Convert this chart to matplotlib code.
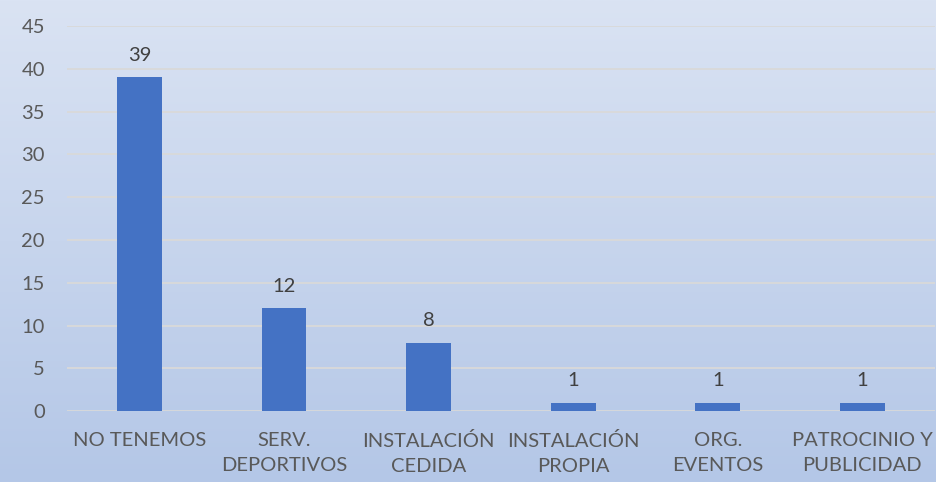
import numpy as np
import matplotlib
matplotlib.use("Agg")
import matplotlib.pyplot as plt

categories = ["NO TENEMOS", "SERV.\nDEPORTIVOS", "INSTALACIÓN\nCEDIDA",
              "INSTALACIÓN\nPROPIA", "ORG.\nEVENTOS", "PATROCINIO Y\nPUBLICIDAD"]
values = [39, 12, 8, 1, 1, 1]

plt.rcParams['font.family'] = ['Lato', 'DejaVu Sans']
text_color = "#595959"

fig = plt.figure(figsize=(9.36, 4.82), dpi=100)

# gradient background
bg = fig.add_axes([0, 0, 1, 1], zorder=0)
top = np.array([0xDA, 0xE3, 0xF3]) / 255
bot = np.array([0xB4, 0xC7, 0xE7]) / 255
t = np.linspace(0, 1, 256)[:, None]
grad = (top * (1 - t) + bot * t)[:, None, :]
bg.imshow(grad, aspect="auto", extent=[0, 1, 0, 1])
bg.axis("off")

ax = fig.add_axes([0.0716, 0.147, 0.927, 0.799], zorder=1)
ax.patch.set_alpha(0)
x = np.arange(len(categories))
bars = ax.bar(x, values, width=0.31, color="#4472C4", zorder=3)
for xi, v in zip(x, values):
    ax.text(xi, v + 1.6, str(v), ha="center", va="bottom", fontsize=14.5, color="#404040")

ax.set_ylim(0, 45)
ax.set_xlim(-0.5, len(categories) - 0.5)
ax.set_yticks(range(0, 46, 5))
ax.yaxis.grid(True, color="#D9D9D9", linewidth=1.3, zorder=0)
ax.set_axisbelow(True)
for s in ax.spines.values():
    s.set_visible(False)
ax.tick_params(axis="both", length=0, labelsize=14.5, labelcolor=text_color)
ax.tick_params(axis="y", pad=16)
ax.set_xticks(x)
ax.set_xticklabels(categories, linespacing=1.55)
ax.tick_params(axis="x", pad=15)

fig.savefig("out.png", dpi=100)
